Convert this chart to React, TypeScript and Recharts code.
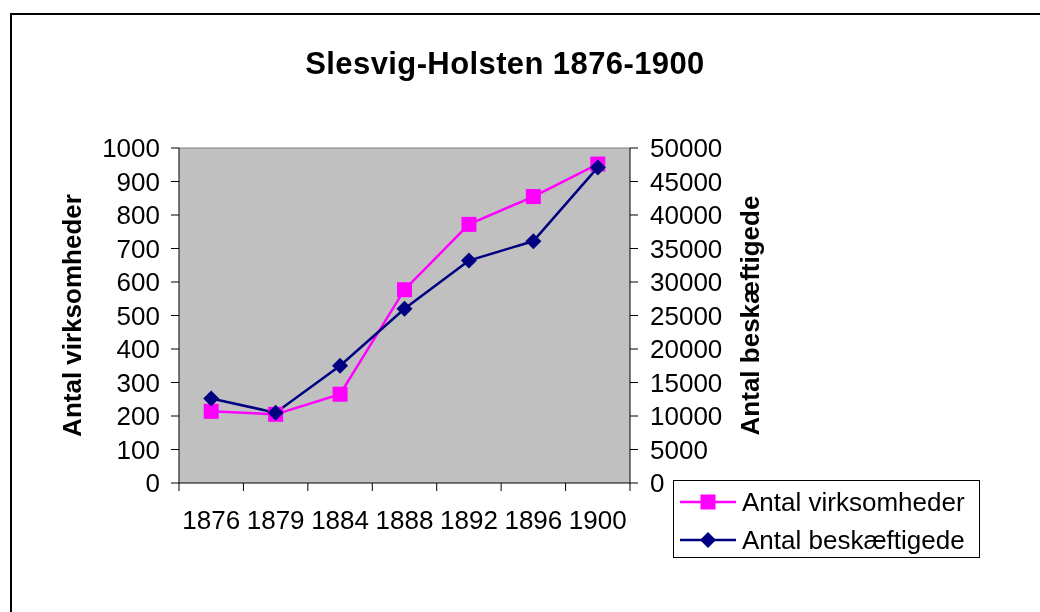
import { CartesianGrid, Legend, Line, LineChart, ReferenceLine, XAxis, YAxis } from "recharts"

const years = ["1876", "1879", "1884", "1888", "1892", "1896", "1900"]
const virksomheder = [214, 205, 265, 577, 772, 855, 952]
const beskaeftigede = [12600, 10500, 17500, 26000, 33200, 36100, 47100]
const leftTicks = [0, 100, 200, 300, 400, 500, 600, 700, 800, 900, 1000]
const rightTicks = [0, 5000, 10000, 15000, 20000, 25000, 30000, 35000, 40000, 45000, 50000]
const seriesOrder = ["virksomheder", "beskaeftigede"]

const data = years.map((year, i) => ({
  year,
  virksomheder: virksomheder[i],
  beskaeftigede: beskaeftigede[i],
}))

const FONT = "'Liberation Sans', Arial, Helvetica, sans-serif"
const MAGENTA = "#FF00FF"
const NAVY = "#000080"
const TICK_LEN = 8
const X_TICK_GAP = 20

function Square({ cx, cy, index }: any) {
  return <rect key={`sq-${index}`} x={cx - 7.5} y={cy - 7.5} width={15} height={15} fill={MAGENTA} />
}

function Diamond({ cx, cy, index }: any) {
  const r = 8
  return (
    <polygon
      key={`dm-${index}`}
      points={`${cx},${cy - r} ${cx + r},${cy} ${cx},${cy + r} ${cx - r},${cy}`}
      fill={NAVY}
    />
  )
}

function YearTick(props: any) {
  const { x, y, payload, index, visibleTicksCount, width } = props
  const half = payload.offset || width / visibleTicksCount / 2
  const top = y - X_TICK_GAP - TICK_LEN
  return (
    <g>
      <line x1={x - half} x2={x - half} y1={top} y2={top + TICK_LEN} stroke="#000" />
      {index === visibleTicksCount - 1 && (
        <line x1={x + half} x2={x + half} y1={top} y2={top + TICK_LEN} stroke="#000" />
      )}
      <text x={x} y={y} dy="0.71em" textAnchor="middle" fill="#000" fontSize={26} fontFamily={FONT}>
        {payload.value}
      </text>
    </g>
  )
}

const axisTitle = (text: string, offset: number) => (props: any) => {
  const { x, y, height } = props.viewBox
  const cx = x + offset
  const cy = y + height / 2
  return (
    <text
      x={cx}
      y={cy}
      transform={`rotate(-90 ${cx} ${cy})`}
      textAnchor="middle"
      dominantBaseline="central"
      fontSize={26}
      fontWeight="bold"
      fontFamily={FONT}
      fill="#000"
    >
      {text}
    </text>
  )
}

function LegendBox({ payload }: any) {
  const items = [...(payload || [])].sort(
    (a: any, b: any) => seriesOrder.indexOf(a.dataKey) - seriesOrder.indexOf(b.dataKey)
  )
  return (
    <div
      style={{
        width: 307,
        height: 78,
        boxSizing: "border-box",
        border: "1px solid #000",
        background: "#fff",
        paddingTop: 2,
        fontFamily: FONT,
        fontSize: 26,
      }}
    >
      {items.map((entry: any) => (
        <div key={entry.value} style={{ display: "flex", alignItems: "center", height: 38 }}>
          <svg width={56} height={20} style={{ marginLeft: 6 }}>
            <line x1={0} x2={56} y1={10} y2={10} stroke={entry.color} strokeWidth={2.5} />
            {entry.dataKey === "virksomheder" ? (
              <rect x={20.5} y={2.5} width={15} height={15} fill={entry.color} />
            ) : (
              <polygon points="28,2 36,10 28,18 20,10" fill={entry.color} />
            )}
          </svg>
          <span style={{ marginLeft: 6, color: "#000", lineHeight: "38px" }}>{entry.value}</span>
        </div>
      ))}
    </div>
  )
}

export default function App() {
  return (
    <div style={{ position: "relative", width: 1024, height: 596, fontFamily: FONT }}>
      <div
        style={{
          position: "fixed",
          left: 10,
          top: 13,
          width: 1100,
          height: 700,
          border: "2px solid #000",
        }}
      />
      <div
        style={{
          position: "absolute",
          left: 0,
          top: 40,
          width: 994,
          textAlign: "center",
          fontSize: 31,
          lineHeight: "31px",
          fontWeight: "bold",
          letterSpacing: 0.4,
          color: "#000",
        }}
      >
        Slesvig-Holsten 1876-1900
      </div>
      <div style={{ position: "absolute", left: 0, top: 0 }}>
        <LineChart width={1024} height={596} data={data} margin={{ top: 140, right: 282, bottom: 61, left: 0 }}>
          <CartesianGrid yAxisId="left" fill="#C0C0C0" horizontal={false} vertical={false} />
          <XAxis
            dataKey="year"
            scale="band"
            height={60}
            axisLine={{ stroke: "#000" }}
            tickLine={false}
            tickSize={TICK_LEN}
            tickMargin={X_TICK_GAP}
            tick={<YearTick />}
            interval={0}
          />
          <YAxis
            yAxisId="left"
            width={171}
            domain={[0, 1000]}
            ticks={leftTicks}
            interval={0}
            axisLine={{ stroke: "#000" }}
            tickLine={{ stroke: "#000" }}
            tickSize={TICK_LEN}
            tickMargin={11}
            tick={{ fill: "#000", fontSize: 26, fontFamily: FONT }}
            label={{ content: axisTitle("Antal virksomheder", 64) }}
          />
          <YAxis
            yAxisId="right"
            orientation="right"
            width={120}
            domain={[0, 50000]}
            ticks={rightTicks}
            interval={0}
            axisLine={{ stroke: "#000" }}
            tickLine={{ stroke: "#000" }}
            tickSize={TICK_LEN}
            tickMargin={12}
            tick={{ fill: "#000", fontSize: 26, fontFamily: FONT }}
            label={{ content: axisTitle("Antal beskæftigede", 120) }}
          />
          <ReferenceLine yAxisId="left" y={1000} stroke="#808080" />
          <Legend
            layout="vertical"
            align="center"
            verticalAlign="middle"
            wrapperStyle={{ left: 665, top: 472, width: 307, height: 78 }}
            content={<LegendBox />}
          />
          <Line
            yAxisId="left"
            dataKey="virksomheder"
            name="Antal virksomheder"
            stroke={MAGENTA}
            strokeWidth={2.5}
            dot={Square}
            activeDot={false}
            isAnimationActive={false}
          />
          <Line
            yAxisId="right"
            dataKey="beskaeftigede"
            name="Antal beskæftigede"
            stroke={NAVY}
            strokeWidth={2.5}
            dot={Diamond}
            activeDot={false}
            isAnimationActive={false}
          />
        </LineChart>
      </div>
    </div>
  )
}
